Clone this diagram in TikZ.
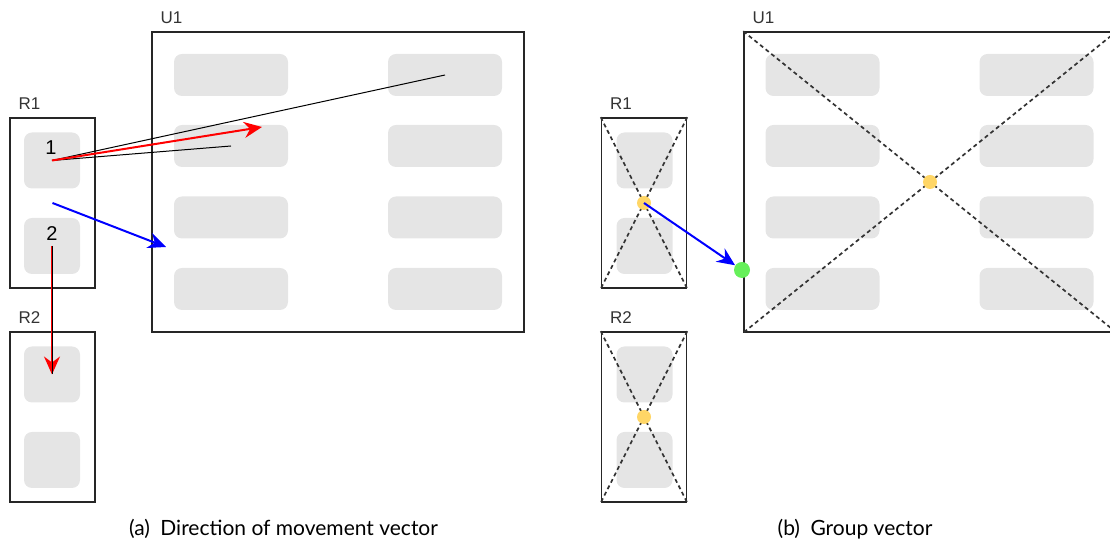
\documentclass[tikz,border=0pt]{standalone}
\usepackage{fontspec}
\setmainfont{Lato}
\newfontfamily\labelfont{Liberation Sans}
\usetikzlibrary{arrows.meta}

\definecolor{slotgray}{RGB}{229,229,229}
\definecolor{centreyellow}{RGB}{255,214,102}
\definecolor{edgegreen}{RGB}{102,240,90}

\begin{document}
\begin{tikzpicture}[x=0.5pt,y=-0.5pt,
  region/.style={draw=black!85,line width=0.75pt,minimum width=42.5pt,minimum height=85pt,inner sep=0pt},
  group/.style={draw=black!85,line width=0.75pt,minimum width=186pt,minimum height=150pt,inner sep=0pt},
  slot/.style={fill=slotgray,rounded corners=4pt,minimum width=28pt,minimum height=28pt,inner sep=0pt},
  wideslot/.style={slot,minimum width=57pt,minimum height=21pt},
  tag/.style={anchor=south west,inner sep=0pt,xshift=4.5pt,yshift=3.5pt,font=\labelfont\fontsize{8.5}{10}\selectfont,text=black!80},
  num/.style={inner sep=0pt,font=\labelfont\fontsize{10}{11}\selectfont},
  cross/.style={dash pattern=on 2pt off 1.6pt,line width=0.85pt,black!80},
  centre/.style={circle,fill=centreyellow,minimum size=7pt,inner sep=0pt},
  move/.style={line width=1pt,-{Stealth[length=9pt,width=8pt,inset=3pt]}},
  caption/.style={font=\fontsize{10.5}{12}\selectfont}]

\useasboundingbox (0,0) rectangle (1110,544);
\clip (0,0) rectangle (1110,544);

% (a) direction of movement
\node[group](u1a) at (338,182) {};
\node[tag] at (u1a.north west) {U1};
\foreach \y [count=\i] in {75,146,217.5,289} {
  \node[wideslot](al\i) at (231,\y) {};
  \node[wideslot](ar\i) at (445,\y) {};
}

\node[region](r1a) at (52.5,203) {};
\node[tag] at (r1a.north west) {R1};
\node[slot](s1) at (52,160.5) {};
\node[slot](s2) at (52,246) {};

\node[region](r2a) at (52.5,417) {};
\node[tag] at (r2a.north west) {R2};
\node[slot](s3) at (52,374.5) {};
\node[slot](s4) at (52,460) {};

\node[num] at (51,148) {1};
\node[num] at (52,234) {2};

\coordinate (redtip) at (262,127);
\coordinate (bluetip) at (166,247);

\draw[black,line width=0.5pt] (s1.center) -- (ar1.center);
\draw[black,line width=0.5pt] (s1.center) -- (al2.center);
\draw[move,red] (s1.center) -- (redtip);
\draw[move,blue] (r1a.center) -- (bluetip);
\draw[move,red] (s2.center) -- (s3.center);
\draw[black,line width=0.4pt] (s2.center) -- (s3.center);

% (b) group vector
\node[group](u1b) at (930,182) {};
\node[tag] at (u1b.north west) {U1};
\foreach \y [count=\i] in {75,146,217.5,289} {
  \node[wideslot](bl\i) at (822.5,\y) {};
  \node[wideslot](br\i) at (1036.5,\y) {};
}

\node[region](r1b) at (644,203) {};
\node[tag] at (r1b.north west) {R1};
\node[slot] at (644.5,160.5) {};
\node[slot] at (644.5,246) {};

\node[region](r2b) at (644,417) {};
\node[tag] at (r2b.north west) {R2};
\node[slot] at (644.5,374.5) {};
\node[slot] at (644.5,460) {};

\foreach \b in {r1b,r2b,u1b} {
  \draw[cross] (\b.north west) -- (\b.south east);
  \draw[cross] (\b.north east) -- (\b.south west);
}

\node[centre](c1) at (r1b.center) {};
\node[centre](c2) at (r2b.center) {};
\node[centre](c3) at (u1b.center) {};
\node[circle,fill=edgegreen,minimum size=8pt,inner sep=0pt](g) at (742,270) {};
\draw[move,blue] (c1.center) -- (g);

\node[caption] at (283.5,529) {(a)\enspace Direction of movement vector};
\node[caption] at (855,529) {(b)\enspace Group vector};

\end{tikzpicture}
\end{document}
